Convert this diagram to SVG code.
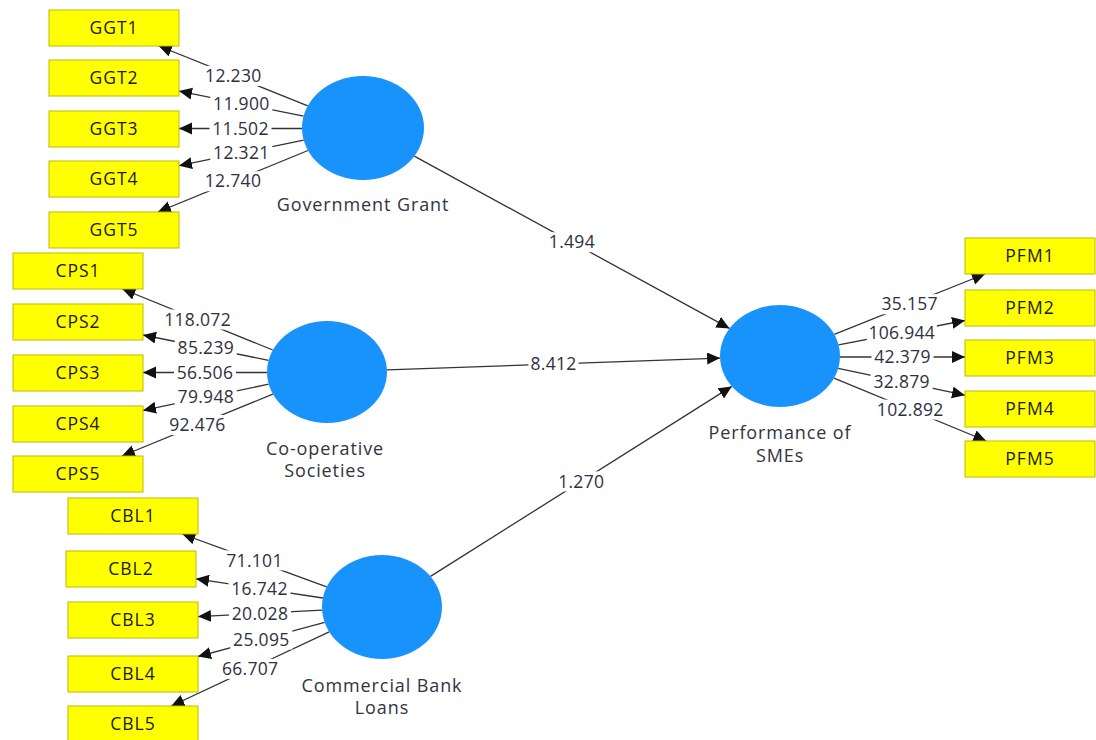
<svg xmlns="http://www.w3.org/2000/svg" width="1096" height="740" viewBox="0 0 1096 740">
<style>
.bg{fill:#ffffff}
.ind rect{fill:#ffff00;stroke:#bcbc00;stroke-width:1}
.ind text{font-family:"Open Sans","Liberation Sans",sans-serif;font-size:17.5px;fill:#1a1a1a;text-anchor:middle;letter-spacing:1px}
.lv ellipse{fill:#1793fb}
.lv text{font-family:"Open Sans","Liberation Sans",sans-serif;font-size:18px;fill:#333340;text-anchor:middle;letter-spacing:0.9px}
.cn path{stroke:#333333;stroke-width:1.3;fill:none;marker-end:url(#ah)}
.lb rect{fill:#ffffff}
.lb text{font-family:"Open Sans","Liberation Sans",sans-serif;font-size:17.5px;fill:#30303f;text-anchor:middle;letter-spacing:0.3px}
</style>
<defs>
<marker id="ah" markerUnits="userSpaceOnUse" markerWidth="14" markerHeight="13" refX="13" refY="6" orient="auto">
<path d="M0,0 L13,6 L0,12 z" fill="#111111"/>
</marker>
</defs>
<rect class="bg" x="0" y="0" width="1096" height="740"/>
<g id="connectors" class="cn">
<path d="M307.8,105.8 L158.8,46"/>
<path d="M303.6,116.1 L179,91.1"/>
<path d="M302,128.5 L179,128.5"/>
<path d="M303.7,140.2 L179,165.7"/>
<path d="M308,150.5 L157.9,212"/>
<path d="M272.8,350 L122.4,289"/>
<path d="M268.6,360.3 L143,335"/>
<path d="M267,372.5 L143,372.5"/>
<path d="M268.7,384.2 L143,410.4"/>
<path d="M272.9,394.1 L121.9,456"/>
<path d="M326.7,586.8 L182.3,534"/>
<path d="M322.9,598 L196,578.8"/>
<path d="M322.1,610.1 L198,616.6"/>
<path d="M324.7,622.4 L198,656.5"/>
<path d="M329.2,631.8 L171.3,706"/>
<path d="M834.3,334.3 L985,274"/>
<path d="M838.5,344.8 L965,320.5"/>
<path d="M840,357 L965,357"/>
<path d="M838.2,368.3 L965,395.2"/>
<path d="M834,378.2 L986.3,441"/>
<path d="M414.3,156.1 L729.5,328.4"/>
<path d="M386.9,369.9 L720.1,358.1"/>
<path d="M430.5,576.4 L731.8,386.4"/>
</g>
<g id="connector-labels" class="lb">
<rect x="202.3" y="65.9" width="62" height="20"/><text x="233.3" y="82">12.230</text>
<rect x="210.3" y="93.6" width="62" height="20"/><text x="241.3" y="109.7">11.900</text>
<rect x="209.5" y="118.5" width="62" height="20"/><text x="240.5" y="134.6">11.502</text>
<rect x="210.3" y="143" width="62" height="20"/><text x="241.3" y="159.1">12.321</text>
<rect x="202" y="171.3" width="62" height="20"/><text x="233" y="187.4">12.740</text>
<rect x="162.6" y="309.5" width="70" height="20"/><text x="197.6" y="325.6">118.072</text>
<rect x="174.8" y="337.7" width="62" height="20"/><text x="205.8" y="353.8">85.239</text>
<rect x="174" y="362.5" width="62" height="20"/><text x="205" y="378.6">56.506</text>
<rect x="174.8" y="387.3" width="62" height="20"/><text x="205.8" y="403.4">79.948</text>
<rect x="166.4" y="415" width="62" height="20"/><text x="197.4" y="431.1">92.476</text>
<rect x="223.5" y="550.4" width="62" height="20"/><text x="254.5" y="566.5">71.101</text>
<rect x="228.5" y="578.4" width="62" height="20"/><text x="259.5" y="594.5">16.742</text>
<rect x="229" y="603.4" width="62" height="20"/><text x="260" y="619.5">20.028</text>
<rect x="230.3" y="629.5" width="62" height="20"/><text x="261.3" y="645.6">25.095</text>
<rect x="219.2" y="658.9" width="62" height="20"/><text x="250.2" y="675">66.707</text>
<rect x="878.6" y="294.2" width="62" height="20"/><text x="909.6" y="310.3">35.157</text>
<rect x="866.8" y="322.6" width="70" height="20"/><text x="901.8" y="338.7">106.944</text>
<rect x="871.5" y="347" width="62" height="20"/><text x="902.5" y="363.1">42.379</text>
<rect x="870.6" y="371.8" width="62" height="20"/><text x="901.6" y="387.9">32.879</text>
<rect x="875.2" y="399.6" width="70" height="20"/><text x="910.2" y="415.7">102.892</text>
<rect x="546.9" y="232.2" width="50" height="20"/><text x="571.9" y="248.3">1.494</text>
<rect x="528.5" y="354" width="50" height="20"/><text x="553.5" y="370.1">8.412</text>
<rect x="556.2" y="471.4" width="50" height="20"/><text x="581.2" y="487.5">1.270</text>
</g>
<g id="GGT1" class="ind"><rect x="49" y="10" width="130" height="36"/><text x="114" y="34">GGT1</text></g>
<g id="GGT2" class="ind"><rect x="49" y="60" width="130" height="36"/><text x="114" y="84">GGT2</text></g>
<g id="GGT3" class="ind"><rect x="49" y="111" width="130" height="36"/><text x="114" y="135">GGT3</text></g>
<g id="GGT4" class="ind"><rect x="49" y="161" width="130" height="36"/><text x="114" y="185">GGT4</text></g>
<g id="GGT5" class="ind"><rect x="49" y="212" width="130" height="36"/><text x="114" y="236">GGT5</text></g>
<g id="CPS1" class="ind"><rect x="13" y="253" width="130" height="36"/><text x="78" y="277">CPS1</text></g>
<g id="CPS2" class="ind"><rect x="13" y="304" width="130" height="36"/><text x="78" y="328">CPS2</text></g>
<g id="CPS3" class="ind"><rect x="13" y="355" width="130" height="36"/><text x="78" y="379">CPS3</text></g>
<g id="CPS4" class="ind"><rect x="13" y="406" width="130" height="36"/><text x="78" y="430">CPS4</text></g>
<g id="CPS5" class="ind"><rect x="13" y="456" width="130" height="36"/><text x="78" y="480">CPS5</text></g>
<g id="CBL1" class="ind"><rect x="68" y="498" width="130" height="36"/><text x="133" y="522">CBL1</text></g>
<g id="CBL2" class="ind"><rect x="66" y="551" width="130" height="36"/><text x="131" y="575">CBL2</text></g>
<g id="CBL3" class="ind"><rect x="68" y="602" width="130" height="36"/><text x="133" y="626">CBL3</text></g>
<g id="CBL4" class="ind"><rect x="68" y="656" width="130" height="36"/><text x="133" y="680">CBL4</text></g>
<g id="CBL5" class="ind"><rect x="68" y="706" width="130" height="36"/><text x="133" y="730">CBL5</text></g>
<g id="PFM1" class="ind"><rect x="965" y="238" width="130" height="36"/><text x="1030" y="262">PFM1</text></g>
<g id="PFM2" class="ind"><rect x="965" y="290" width="130" height="36"/><text x="1030" y="314">PFM2</text></g>
<g id="PFM3" class="ind"><rect x="965" y="340" width="130" height="36"/><text x="1030" y="364">PFM3</text></g>
<g id="PFM4" class="ind"><rect x="965" y="391" width="130" height="36"/><text x="1030" y="415">PFM4</text></g>
<g id="PFM5" class="ind"><rect x="965" y="441" width="130" height="36"/><text x="1030" y="465">PFM5</text></g>
<g id="GovernmentGrant" class="lv"><ellipse cx="363" cy="128" rx="61" ry="52"/><text x="363" y="211">Government Grant</text></g>
<g id="CooperativeSocieties" class="lv"><ellipse cx="327" cy="372" rx="60" ry="51"/><text x="325" y="455">Co-operative</text><text x="325" y="477">Societies</text></g>
<g id="CommercialBankLoans" class="lv"><ellipse cx="382" cy="607" rx="60" ry="52"/><text x="382" y="692">Commercial Bank</text><text x="382" y="714">Loans</text></g>
<g id="PerformanceSMEs" class="lv"><ellipse cx="780" cy="356" rx="60" ry="51"/><text x="780" y="439">Performance of</text><text x="780" y="462">SMEs</text></g>
</svg>
